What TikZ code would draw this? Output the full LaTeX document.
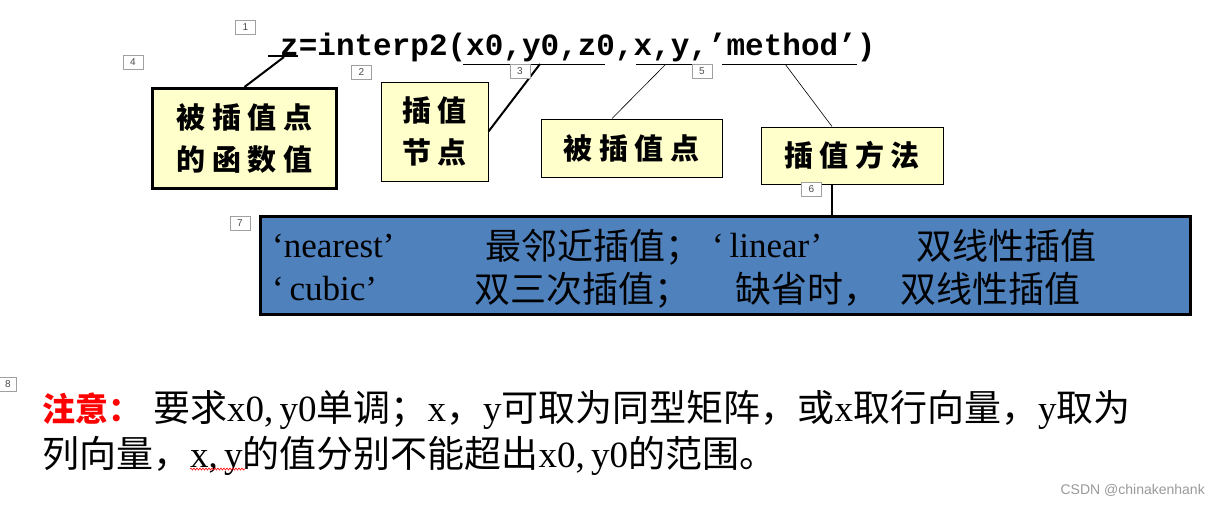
\documentclass[tikz,border=0pt]{standalone}
\usepackage{fontspec}
\setmainfont{Liberation Serif}
\newfontfamily\cjk{Noto Sans CJK SC}
\newfontfamily\cjkbox{Noto Sans CJK SC}[LetterSpace=22]
\newfontfamily\monob{Liberation Mono}
\newfontfamily\wm{Liberation Sans}
\usetikzlibrary{decorations.pathmorphing}
\definecolor{boxyellow}{HTML}{FFFFCC}
\definecolor{boxblue}{HTML}{4F81BD}
\definecolor{numgray}{HTML}{A0A0A0}
\begin{document}
\begin{tikzpicture}[x=1pt,y=-1pt,
  numbox/.style={draw=numgray, fill=white, line width=0.7pt, text=black!70,
     font=\wm\fontsize{10}{10}\selectfont, minimum width=20, minimum height=14, inner sep=0},
  ybox/.style={draw=black, fill=boxyellow, inner sep=0, align=left,
     font=\cjkbox\bfseries\fontsize{29}{42}\selectfont},
  thinline/.style={line width=0.6pt},
  thickline/.style={line width=2pt},
  bluetxt/.style={anchor=base west, inner sep=0, font=\fontsize{35}{35}\selectfont},
  bluecjk/.style={bluetxt, font=\cjk\fontsize{36}{36}\selectfont},
  notetxt/.style={anchor=base west, inner sep=0, font=\fontsize{37}{37}\selectfont}
]
\useasboundingbox (0,0) rectangle (1219,504);

% title
\node[anchor=base west, inner sep=0, font=\monob\bfseries\fontsize{31}{31}\selectfont] (title) at (280,55) {z=interp2(x0,y0,z0,x,y,’method’)};
\draw[thickline] (268,56) -- (298,56);
\draw[thinline] (463,64) -- (605,64);
\draw[thinline] (636,64) -- (696,64);
\draw[thinline] (722,64) -- (857,64);
\coordinate (uz) at (284,57);
\coordinate (ux0) at (540,64);
\coordinate (uxy) at (666,64);
\coordinate (um) at (785,64);

% boxes
\node[ybox, line width=3pt, minimum width=184, minimum height=100] (boxA) at (244.5,138.5) {被插值点\\的函数值};
\node[ybox, line width=1pt, minimum width=107, minimum height=99] (boxB) at (434.5,131.5) {插值\\节点};
\node[ybox, line width=1pt, minimum width=181, minimum height=58] (boxC) at (631.5,148) {被插值点};
\node[ybox, line width=1pt, minimum width=182, minimum height=57] (boxD) at (852,155.5) {插值方法};
\node[draw=black, fill=boxblue, line width=3pt, minimum width=930, minimum height=98, inner sep=0] (blue) at (725.5,265.5) {};

% connectors
\draw[thickline] (uz) -- (boxA.north);
\draw[thickline] (ux0) -- (boxB.east);
\draw[thinline] (uxy) -- ([xshift=-19.5pt]boxC.north);
\draw[thinline] (um) -- ([xshift=-20pt]boxD.north);
\draw[line width=2.5pt] ([xshift=-20pt]boxD.south) -- ([xshift=-20pt]boxD.south |- blue.north);

% number boxes
\node[numbox] (n1) at (245.5,27) {1};
\node[numbox] (n4) at (133,62) {4};
\node[numbox] (n2) at (361.5,72) {2};
\node[numbox] (n3) at (520,71.5) {3};
\node[numbox] (n5) at (702,71.5) {5};
\node[numbox] (n6) at (811.5,189) {6};
\node[numbox] (n7) at (240,223) {7};
\node[numbox, minimum width=17] (n8) at (8,384) {8};

% blue box text
\node[bluetxt] (b1) at (272,257) {‘nearest’};
\node[bluecjk] (b2) at (485,259) {最邻近插值；};
\node[bluetxt] (b3) at (712,257) {‘\,linear’};
\node[bluecjk] (b4) at (916,259) {双线性插值};
\node[bluetxt] (b5) at (272,300) {‘\,cubic’};
\node[bluecjk] (b6) at (474,302) {双三次插值；};
\node[bluecjk] (b7) at (735,302) {缺省时，};
\node[bluecjk] (b8) at (900,302) {双线性插值};

% note
\node[notetxt, text=red, font=\cjk\bfseries\fontsize{33}{33}\selectfont] (n1a) at (42,421) {注意：};
\node[notetxt] (n1b) at (153,421) {{\cjk 要求}x0,\,y0{\cjk 单调；}x{\cjk ，}y{\cjk 可取为同型矩阵，或}x{\cjk 取行向量，}y{\cjk 取为}};
\node[notetxt] (n2a) at (42,467) {{\cjk 列向量，}x,\,y{\cjk 的值分别不能超出}x0,\,y0{\cjk 的范围。}};
\draw[red, line width=0.6pt, decorate, decoration={snake, amplitude=1pt, segment length=3pt}] (190,469) -- (245,469);

% watermark
\node[anchor=base east, inner sep=0, text=gray!80, font=\wm\fontsize{14}{14}\selectfont] (wm) at (1205,494) {CSDN @chinakenhank};
\end{tikzpicture}
\end{document}
